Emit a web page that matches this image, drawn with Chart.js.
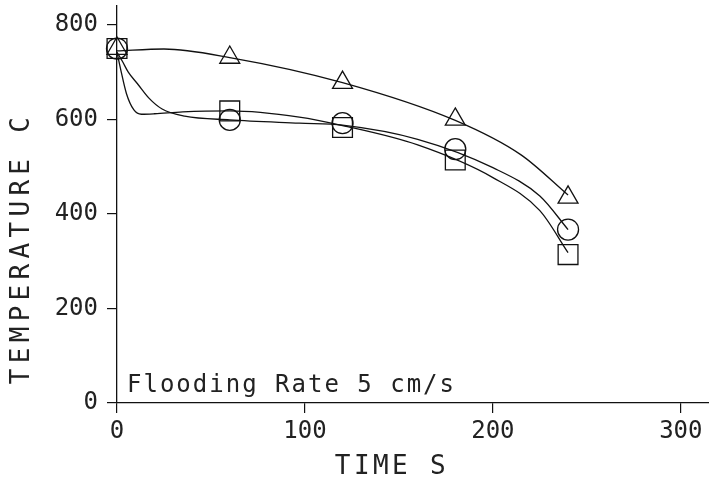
<!DOCTYPE html>
<html>
<head>
<meta charset="utf-8">
<script src="https://cdn.jsdelivr.net/npm/chart.js@4.4.1/dist/chart.umd.min.js"></script>
<style>
html, body { margin: 0; padding: 0; background: #fff; }
#wrap { width: 709px; height: 489px; }
</style>
</head>
<body>
<div id="wrap"><canvas id="tempChart"></canvas></div>
<script>
// measured points (time in s, temperature in C)
const times = [0, 60, 120, 180, 240];
const triangles = [750, 731, 678, 600, 435];
const circles = [750, 599, 592, 537, 367];
const squares = [750, 618, 583, 514, 314];

// fitted curves
const triCurveT = [0, 25, 60, 120, 180, 215, 240];
const triCurve = [745, 749, 731, 678, 598, 525, 440];
const circCurveT = [0, 3, 6, 11, 17, 24, 36, 60, 97, 120, 160, 200, 225, 240];
const circCurve = [742, 722, 700, 675, 645, 622, 607, 599, 592, 588, 558, 498, 438, 367];
const sqCurveT = [0, 2, 5, 9, 13, 20, 35, 60, 97, 120, 160, 200, 225, 240];
const sqCurve = [742, 705, 655, 620, 611, 612, 616, 618, 605, 587, 546, 477, 407, 318];

const xTicks = [0, 100, 200, 300];
const yTicks = [0, 200, 400, 600, 800];

function pairs(xs, ys) {
    return xs.map((x, i) => ({ x: x, y: ys[i] }));
}

const tickFont = { family: 'DejaVu Sans Mono', size: 24 };

const textPlugin = {
    id: 'plotterText',
    afterDraw(chart) {
        const ctx = chart.ctx;
        ctx.save();
        ctx.fillStyle = '#222';
        ctx.font = '24px "DejaVu Sans Mono"';
        ctx.textAlign = 'left';
        ctx.textBaseline = 'alphabetic';
        ctx.letterSpacing = '2px';
        ctx.fillText('Flooding Rate 5 cm/s', 127, 392);

        ctx.font = '26px "DejaVu Sans Mono"';
        ctx.textAlign = 'center';
        ctx.textBaseline = 'middle';
        ctx.letterSpacing = '3.4px';
        ctx.fillText('TIME S', 392, 467);

        ctx.translate(22, 250);
        ctx.rotate(-Math.PI / 2);
        ctx.letterSpacing = '5.3px';
        ctx.fillText('TEMPERATURE C', 2, 0);
        ctx.restore();
    }
};

const curveStyle = {
    type: 'line',
    borderColor: '#111',
    borderWidth: 1.3,
    pointRadius: 0,
    fill: false,
    clip: false,
    cubicInterpolationMode: 'monotone'
};

const markStyle = {
    type: 'scatter',
    borderColor: '#111',
    backgroundColor: 'rgba(0,0,0,0)',
    borderWidth: 1.3,
    clip: false,
    showLine: false
};

new Chart(document.getElementById('tempChart'), {
    data: {
        datasets: [
            Object.assign({ label: 'Triangles', data: pairs(times, triangles), pointStyle: 'triangle', pointRadius: 11.5 }, markStyle),
            Object.assign({ label: 'Circles', data: pairs(times, circles), pointStyle: 'circle', pointRadius: 10.5 }, markStyle),
            Object.assign({ label: 'Squares', data: pairs(times, squares), pointStyle: 'rect', pointRadius: 14 }, markStyle),
            Object.assign({ label: 'Fit triangles', data: pairs(triCurveT, triCurve) }, curveStyle),
            Object.assign({ label: 'Fit circles', data: pairs(circCurveT, circCurve) }, curveStyle),
            Object.assign({ label: 'Fit squares', data: pairs(sqCurveT, sqCurve) }, curveStyle)
        ]
    },
    options: {
        responsive: true,
        maintainAspectRatio: false,
        animation: false,
        layout: { autoPadding: false, padding: { top: 6, right: 0, left: 0, bottom: 0 } },
        plugins: {
            legend: { display: false },
            tooltip: { enabled: false }
        },
        scales: {
            x: {
                type: 'linear',
                min: 0,
                max: 315,
                afterBuildTicks: s => { s.ticks = xTicks.map(v => ({ value: v })); },
                afterFit: s => { s.height = 86; s.paddingLeft = 0; s.paddingRight = 0; },
                ticks: { color: '#222', font: tickFont, padding: 4, maxRotation: 0 },
                grid: { drawOnChartArea: false, tickLength: 10, color: '#111', lineWidth: 1.2 },
                border: { color: '#111', width: 1.3 }
            },
            y: {
                type: 'linear',
                min: 0,
                max: 840,
                afterBuildTicks: s => { s.ticks = yTicks.map(v => ({ value: v })); },
                afterFit: s => { s.width = 117; s.paddingTop = 0; s.paddingBottom = 0; },
                ticks: { color: '#222', font: tickFont, padding: 9 },
                grid: { drawOnChartArea: false, tickLength: 10, color: '#111', lineWidth: 1.2 },
                border: { color: '#111', width: 1.3 }
            }
        }
    },
    plugins: [textPlugin]
});
</script>
</body>
</html>
